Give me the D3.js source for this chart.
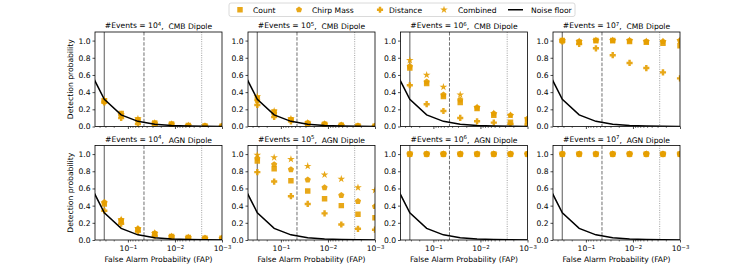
<!DOCTYPE html>
<html><head><meta charset="utf-8">
<script src="https://cdn.jsdelivr.net/npm/d3@7"></script>
<style>
body { margin: 0; background: #fff; }
text { font-family: "DejaVu Sans", sans-serif; fill: #000; }
</style>
</head><body><div id="chart"></div>
<script>
// detection probability vs false alarm probability, 2 dipoles x 4 event counts

// data
var fap = [0.317, 0.139, 0.0612, 0.0269, 0.0118, 0.0052, 0.0023, 0.001];
var noiseFap = [0.72, 0.317, 0.139, 0.0612, 0.0269, 0.0118, 0.0052, 0.0023, 0.001];
var noiseFloor = [0.70, 0.317, 0.135, 0.06, 0.027, 0.012, 0.005, 0.002, 0.001];
var sigmaLines = [0.317, 0.0455, 0.0027];
var eventExps = ["4", "5", "6", "7"];
var dipoles = ["CMB Dipole", "AGN Dipole"];
var methods = ["Count", "Chirp Mass", "Distance", "Combined"];
var yTicks = [0, 0.2, 0.4, 0.6, 0.8, 1.0];
var xTicks = [0.1, 0.01, 0.001];
var xMinor = [0.4, 0.3, 0.2, 0.09, 0.08, 0.07, 0.06, 0.05, 0.04, 0.03, 0.02,
              0.009, 0.008, 0.007, 0.006, 0.005, 0.004, 0.003, 0.002];

// rows: CMB 1e4..1e7, then AGN 1e4..1e7
var countProb = [
    [0.30, 0.15, 0.08, 0.04, 0.03, 0.012, 0.006, 0.003],
    [0.33, 0.17, 0.08, 0.035, 0.025, 0.015, 0.006, 0.003],
    [0.68, 0.50, 0.35, 0.28, 0.21, 0.13, 0.05, 0.06],
    [1.00, 0.98, 1.00, 1.00, 0.99, 0.98, 0.97, 0.94],
    [0.42, 0.22, 0.12, 0.07, 0.04, 0.03, 0.02, 0.02],
    [0.92, 0.83, 0.69, 0.57, 0.48, 0.40, 0.30, 0.26],
    [1, 1, 1, 1, 1, 1, 1, 1],
    [1, 1, 1, 1, 1, 1, 1, 1]
];
var chirpProb = [
    [0.29, 0.13, 0.07, 0.035, 0.025, 0.01, 0.005, 0.003],
    [0.30, 0.15, 0.08, 0.04, 0.03, 0.015, 0.005, 0.003],
    [0.70, 0.52, 0.37, 0.31, 0.22, 0.15, 0.13, 0.09],
    [1.00, 0.99, 1.00, 1.00, 1.00, 0.99, 0.99, 1.00],
    [0.44, 0.23, 0.13, 0.08, 0.04, 0.03, 0.02, 0.02],
    [0.95, 0.88, 0.82, 0.70, 0.61, 0.52, 0.45, 0.39],
    [1, 1, 1, 1, 1, 1, 1, 1],
    [1, 1, 1, 1, 1, 1, 1, 1]
];
var distProb = [
    [0.28, 0.10, 0.03, 0.02, 0.01, 0.005, 0.003, 0.001],
    [0.25, 0.11, 0.06, 0.03, 0.02, 0.01, 0.004, 0.002],
    [0.48, 0.26, 0.18, 0.10, 0.06, 0.045, 0.03, 0.02],
    [0.99, 0.96, 0.91, 0.83, 0.74, 0.68, 0.63, 0.56],
    [0.34, 0.19, 0.10, 0.05, 0.03, 0.02, 0.015, 0.01],
    [0.79, 0.68, 0.51, 0.42, 0.31, 0.18, 0.13, 0.12],
    [1, 1, 1, 1, 1, 1, 1, 1],
    [1, 1, 1, 1, 1, 1, 1, 1]
];
var combProb = [
    [0.31, 0.14, 0.09, 0.04, 0.03, 0.012, 0.006, 0.003],
    [0.35, 0.18, 0.09, 0.04, 0.03, 0.015, 0.006, 0.003],
    [0.77, 0.60, 0.46, 0.37, 0.22, 0.15, 0.13, 0.09],
    [1.00, 0.99, 1.00, 1.00, 1.00, 0.99, 0.99, 1.00],
    [0.43, 0.24, 0.13, 0.08, 0.04, 0.03, 0.02, 0.02],
    [0.99, 0.96, 0.94, 0.86, 0.76, 0.71, 0.61, 0.58],
    [1, 1, 1, 1, 1, 1, 1, 1],
    [1, 1, 1, 1, 1, 1, 1, 1]
];
var allProbs = [countProb, chirpProb, distProb, combProb];

// svg and layout
var width = 756, height = 270;
var orange = "#E69F00";
var fs = "7.6px", fsSup = "5.4px";
var svg = d3.select("#chart").append("svg")
        .attr("width", width).attr("height", height);
var pw = 127, ph = 94.5;
var lefts = [95, 248, 400.5, 553];
var tops = [32, 145.5];

var x = d3.scaleLog().domain([0.5, 0.001]).range([0, pw]);
var y = d3.scaleLinear().domain([0, 1.1]).range([ph, 0]);

// markers
var pentagon = {
    draw: function(ctx, size) {
        var r = Math.sqrt(size / 2.378);
        for (var k = 0; k < 5; k++) {
            var a = -Math.PI / 2 + k * 2 * Math.PI / 5;
            if (k == 0) ctx.moveTo(r * Math.cos(a), r * Math.sin(a));
            else ctx.lineTo(r * Math.cos(a), r * Math.sin(a));
        }
        ctx.closePath();
    }
};
// thick filled plus, like matplotlib "P"
var plusP = {
    draw: function(ctx, size) {
        var h = Math.sqrt(size / 5) * 1.5, t = h * 0.4;
        ctx.moveTo(-t, -h); ctx.lineTo(t, -h); ctx.lineTo(t, -t); ctx.lineTo(h, -t);
        ctx.lineTo(h, t); ctx.lineTo(t, t); ctx.lineTo(t, h); ctx.lineTo(-t, h);
        ctx.lineTo(-t, t); ctx.lineTo(-h, t); ctx.lineTo(-h, -t); ctx.lineTo(-t, -t);
        ctx.closePath();
    }
};
var symbols = [
    d3.symbol().type(d3.symbolSquare).size(30),
    d3.symbol().type(pentagon).size(25),
    d3.symbol().type(plusP).size(21),
    d3.symbol().type(d3.symbolStar).size(18)
];

var noiseLine = d3.line()
        .x(function(d, i) { return x(noiseFap[i]); })
        .y(function(d) { return y(d); });

for (var p = 0; p < 8; p++) {
    var row = Math.floor(p / 4), col = p % 4;
    var g = svg.append("g")
            .attr("transform", "translate(" + lefts[col] + "," + tops[row] + ")");

    g.append("clipPath").attr("id", "clip" + p)
        .append("rect").attr("width", pw).attr("height", ph);
    var plot = g.append("g").attr("clip-path", "url(#clip" + p + ")");

    // sigma lines
    plot.selectAll(".sig").data(sigmaLines).enter().append("line")
        .attr("x1", function(d) { return x(d); }).attr("x2", function(d) { return x(d); })
        .attr("y1", 0).attr("y2", ph)
        .attr("stroke", function(d, i) { return ["#808080", "#707070", "#a0a0a0"][i]; })
        .attr("stroke-width", function(d, i) { return [1.3, 1, 1][i]; })
        .attr("stroke-dasharray", function(d, i) { return ["", "3.5,1.6", "1,1.3"][i]; });

    // points for each method
    allProbs.forEach(function(arr, m) {
        plot.selectAll(".m" + m).data(arr[p]).enter().append("path")
            .attr("d", symbols[m])
            .attr("transform", function(d, i) {
                return "translate(" + x(fap[i]) + "," + y(d) + ")"; })
            .attr("fill", orange).attr("fill-opacity", 0.9);
    });

    // noise floor
    plot.append("path").datum(noiseFloor).attr("d", noiseLine)
        .attr("fill", "none").attr("stroke", "#000").attr("stroke-width", 1.5);

    // axes
    var ya = g.append("g").call(d3.axisLeft(y).tickValues(yTicks)
            .tickFormat(d3.format(".1f")).tickSize(2.5).tickPadding(2));
    ya.select(".domain").remove();
    ya.selectAll("text").style("font-size", fs);
    ya.selectAll("line").attr("stroke-width", 0.7);

    var xa = g.append("g").attr("transform", "translate(0," + ph + ")")
            .call(d3.axisBottom(x).tickValues(xTicks).tickSize(2.5).tickPadding(3.5));
    xa.select(".domain").remove();
    xa.selectAll("line").attr("stroke-width", 0.7);
    if (row == 1) {
        xa.selectAll(".tick text").each(function(d) {
            var t = d3.select(this).text("10").style("font-size", fs);
            t.append("tspan").attr("dy", "-0.45em").style("font-size", fsSup)
                .text("\u2212" + Math.round(-Math.log10(d)));
        });
    } else {
        xa.selectAll(".tick text").remove();
    }
    var xm = g.append("g").attr("transform", "translate(0," + ph + ")")
            .call(d3.axisBottom(x).tickValues(xMinor).tickSize(1.5).tickFormat(""));
    xm.select(".domain").remove();
    xm.selectAll("line").attr("stroke-width", 0.5);

    // frame
    g.append("rect").attr("width", pw).attr("height", ph)
        .attr("fill", "none").attr("stroke", "#000").attr("stroke-width", 0.8);

    // title
    var title = g.append("text").attr("x", pw / 2).attr("y", -4)
            .attr("text-anchor", "middle").style("font-size", fs)
            .style("white-space", "pre").text("#Events = 10");
    title.append("tspan").attr("dy", "-0.45em").style("font-size", fsSup).text(eventExps[col]);
    title.append("tspan").attr("dy", "0.45em").text(",  " + dipoles[row]);

    if (col == 0) {
        g.append("text").attr("transform", "translate(-22," + ph / 2 + ") rotate(-90)")
            .attr("text-anchor", "middle").style("font-size", fs)
            .text("Detection probability");
    }
    if (row == 1) {
        g.append("text").attr("x", pw / 2).attr("y", ph + 21.5)
            .attr("text-anchor", "middle").style("font-size", fs)
            .text("False Alarm Probability (FAP)");
    }
}

// legend
var lg = svg.append("g").attr("transform", "translate(229,3)");
lg.append("rect").attr("width", 346).attr("height", 13.5).attr("rx", 2)
    .attr("fill", "#fff").attr("stroke", "#d0d0d0").attr("stroke-width", 0.8);
var markX = [11, 70, 151, 215], textX = [24, 83, 160, 229];
methods.forEach(function(name, m) {
    lg.append("path").attr("d", symbols[m])
        .attr("transform", "translate(" + markX[m] + ",6.75)")
        .attr("fill", orange).attr("fill-opacity", 0.9);
    lg.append("text").attr("x", textX[m]).attr("y", 9.5)
        .style("font-size", fs).text(name);
});
lg.append("line").attr("x1", 279).attr("x2", 294).attr("y1", 6.75).attr("y2", 6.75)
    .attr("stroke", "#000").attr("stroke-width", 1.5);
lg.append("text").attr("x", 302).attr("y", 9.5).style("font-size", fs).text("Noise floor");
</script>
</body></html>
